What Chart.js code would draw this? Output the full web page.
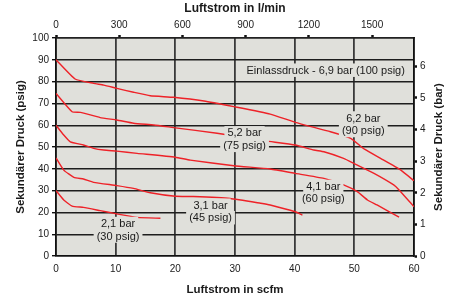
<!DOCTYPE html>
<html>
<head>
<meta charset="utf-8">
<script src="https://cdn.jsdelivr.net/npm/chart.js@4.4.1/dist/chart.umd.min.js"></script>
<style>
  html, body { margin: 0; padding: 0; background: #fff; }
  #wrap { width: 454px; height: 300px; }
</style>
</head>
<body>
<div id="wrap"><canvas id="chart"></canvas></div>
<script>
// Kennlinien: Luftstrom (scfm) gegen sekundären Druck (psig)
const flow90 = [0, 3.2, 6.3, 8, 10.2, 13, 15.8, 19.7, 24.8, 29.8, 35.9, 40.1, 46, 49.4, 51.7, 54.4, 57.8, 60];
const psig90 = [90, 81.2, 79.2, 78.4, 76.9, 75.1, 73.5, 72.8, 71.1, 68.5, 65.1, 61.3, 57, 54, 49, 44.8, 39.4, 34.5];

const flow75 = [0, 2.7, 4.1, 7.4, 10.2, 13, 16.4, 19.7, 27, 35.1, 40.1, 43.2, 44.9, 48.2, 50, 53.3, 56.6, 57.5, 60];
const psig75 = [74.6, 66.2, 65.9, 63.5, 62.4, 60.9, 60.1, 58.9, 56.3, 52.8, 50.9, 48.6, 47.8, 44.8, 42.4, 37.9, 32.6, 30.3, 22.6];

const flow60 = [0, 1.3, 2.4, 4.6, 6.3, 8, 10.2, 13.6, 20, 22.5, 29.8, 35.9, 40.1, 44.9, 48.2, 50.5, 52.2, 53.8, 57.5];
const psig60 = [60, 55.5, 52.4, 50.9, 49.4, 48.6, 48.1, 47.1, 45.3, 44, 41.4, 39.9, 37.9, 35.6, 32.6, 29.5, 25.7, 23.4, 17.8];

const flow45 = [0, 1.3, 3, 4.6, 6.3, 10.2, 13, 15.8, 20, 23, 29.2, 34.3, 35.9, 40.1, 41.3];
const psig45 = [45, 39.4, 36.1, 35.3, 33.8, 32.3, 31, 29, 27.4, 27.3, 26.4, 24.2, 23.4, 20.3, 18.8];

const flow30 = [0, 1.3, 2.7, 4.6, 7.4, 10.2, 13.6, 17.5];
const psig30 = [30, 25.7, 22.9, 22.3, 20.8, 19.3, 17.7, 17.3];

// Achsen
const flowTicks = [0, 10, 20, 30, 40, 50, 60];
const psigTicks = [0, 10, 20, 30, 40, 50, 60, 70, 80, 90, 100];
const lminTicks = [0, 300, 600, 900, 1200, 1500];
const barTicks = [0, 1, 2, 3, 4, 5, 6];
const LMIN_PER_SCFM = 28.317;
const PSIG_PER_BAR = 14.504;

// Beschriftungen im Diagramm
const noteLines = [
    ['Einlassdruck - 6,9 bar (100 psig)'],
    ['6,2 bar', '(90 psig)'],
    ['5,2 bar', '(75 psig)'],
    ['4,1 bar', '(60 psig)'],
    ['3,1 bar', '(45 psig)'],
    ['2,1 bar', '(30 psig)']
];
const noteFlow = [45.2, 51.5, 31.6, 44.8, 25.9, 10.4];
const notePsig = [85.0, 60.2, 53.4, 28.8, 20.2, 11.8];

const FONT = "'Liberation Sans', Arial, sans-serif";
const TEXT = '#1a1a1a';
const PLOT_BG = '#e0e0db';
const RED = '#ee2228';

function toPoints(xs, ys) {
    return xs.map((x, i) => ({x: x, y: ys[i]}));
}

function curve(xs, ys) {
    return {
        data: toPoints(xs, ys),
        borderColor: RED,
        borderWidth: 1.4,
        pointRadius: 0,
        tension: 0.15,
        fill: false
    };
}

function fixTicks(values) {
    return scale => { scale.ticks = values.map(v => ({value: v})); };
}

const plain = v => String(v);

// Hintergrund der Zeichenfläche
const plotBg = {
    id: 'plotBg',
    beforeDraw(chart) {
        const {ctx, chartArea: a} = chart;
        ctx.save();
        ctx.fillStyle = PLOT_BG;
        ctx.fillRect(a.left, a.top, a.right - a.left, a.bottom - a.top);
        ctx.restore();
    }
};

// Kurvenbeschriftungen mit deckendem Hintergrund, je Zeile ein Kasten
const notes = {
    id: 'notes',
    afterDatasetsDraw(chart) {
        const {ctx, scales} = chart;
        ctx.save();
        ctx.font = '11px ' + FONT;
        ctx.textAlign = 'center';
        ctx.textBaseline = 'middle';
        const lh = 12.5;
        noteLines.forEach((lines, i) => {
            const cx = scales.x.getPixelForValue(noteFlow[i]);
            const cy = scales.y.getPixelForValue(notePsig[i]);
            lines.forEach((t, k) => {
                const y = cy + (k - (lines.length - 1) / 2) * lh;
                const w = ctx.measureText(t).width + 6;
                ctx.fillStyle = PLOT_BG;
                ctx.fillRect(cx - w / 2, y - lh / 2 - 1, w, lh + 1);
            });
            ctx.fillStyle = TEXT;
            lines.forEach((t, k) => {
                ctx.fillText(t, cx, cy + (k - (lines.length - 1) / 2) * lh);
            });
        });
        ctx.restore();
    }
};

// rechte Achsenbeschriftung, von unten nach oben gelesen
const rightTitle = {
    id: 'rightTitle',
    afterDraw(chart) {
        const {ctx, chartArea: a} = chart;
        ctx.save();
        ctx.translate(439, (a.top + a.bottom) / 2);
        ctx.rotate(-Math.PI / 2);
        ctx.font = 'bold 11.5px ' + FONT;
        ctx.fillStyle = TEXT;
        ctx.textAlign = 'center';
        ctx.textBaseline = 'middle';
        ctx.fillText('Sekundärer Druck (bar)', 0, 0);
        ctx.restore();
    }
};

Chart.defaults.font.family = FONT;
Chart.defaults.color = TEXT;

new Chart(document.getElementById('chart'), {
    type: 'line',
    data: {
        datasets: [
            curve(flow90, psig90),
            curve(flow75, psig75),
            curve(flow60, psig60),
            curve(flow45, psig45),
            curve(flow30, psig30)
        ]
    },
    options: {
        responsive: true,
        maintainAspectRatio: false,
        animation: false,
        devicePixelRatio: 1,
        layout: {padding: 0},
        plugins: {legend: {display: false}, tooltip: {enabled: false}},
        scales: {
            x: {
                type: 'linear', position: 'bottom', min: 0, max: 60,
                afterBuildTicks: fixTicks(flowTicks),
                afterFit: s => { s.height = 44; },
                grid: {color: '#3a3a3a', lineWidth: 1.8, drawTicks: false},
                border: {color: '#111', width: 1.6},
                ticks: {font: {size: 10}, padding: 7, maxRotation: 0, callback: plain},
                title: {display: true, text: 'Luftstrom in scfm', font: {size: 11.5, weight: 'bold'}, padding: {top: 0, bottom: 3}}
            },
            xTop: {
                type: 'linear', position: 'top', min: 0, max: 60 * LMIN_PER_SCFM,
                afterBuildTicks: fixTicks(lminTicks),
                afterFit: s => { s.height = 38; },
                grid: {drawOnChartArea: false, tickLength: 3, tickWidth: 2.5, tickColor: '#111'},
                border: {color: '#222', width: 1.6},
                ticks: {font: {size: 10}, padding: 4, maxRotation: 0, callback: plain},
                title: {display: true, text: 'Luftstrom in l/min', font: {size: 12, weight: 'bold'}, padding: {top: 1, bottom: 0}}
            },
            y: {
                type: 'linear', position: 'left', min: 0, max: 100,
                afterBuildTicks: fixTicks(psigTicks),
                afterFit: s => { s.width = 56; },
                grid: {color: '#1e1e1e', lineWidth: 1.4, tickLength: 4, tickColor: '#111'},
                border: {color: '#111', width: 1.6},
                ticks: {font: {size: 10}, padding: 3, callback: plain},
                title: {display: true, text: 'Sekundärer Druck (psig)', font: {size: 11.5, weight: 'bold'}, padding: {top: 14, bottom: 0}}
            },
            yBar: {
                type: 'linear', position: 'right', min: 0, max: 100 / PSIG_PER_BAR,
                afterBuildTicks: fixTicks(barTicks),
                afterFit: s => { s.width = 40; },
                grid: {drawOnChartArea: false, tickLength: 3, tickWidth: 2.5, tickColor: '#111'},
                border: {color: '#111', width: 1.6},
                ticks: {font: {size: 10}, padding: 3, callback: plain}
            }
        }
    },
    plugins: [plotBg, notes, rightTitle]
});
</script>
</body>
</html>
